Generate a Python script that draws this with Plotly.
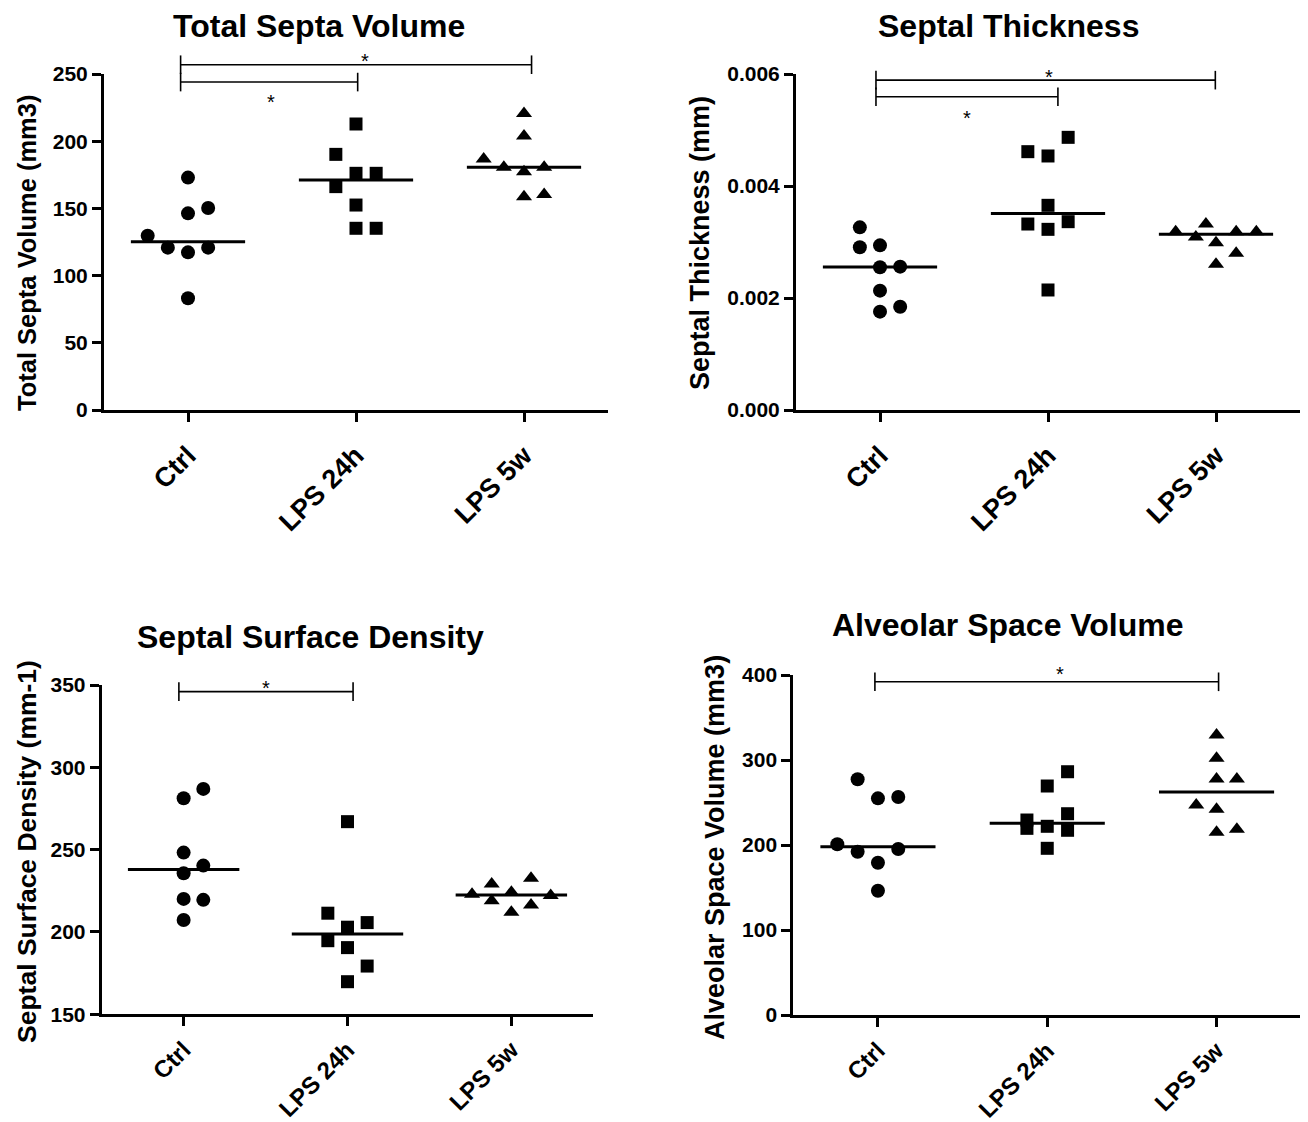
import numpy as np
import plotly.graph_objects as go

W, H = 1308, 1122
OFF = 8  # page offset of the figure (body margin) in the photographed window
FONT = "Liberation Sans, Arial, sans-serif"

categories = ["Ctrl", "LPS 24h", "LPS 5w"]

# ---- Data ----
tsv_ctrl = [172.9, 150.3, 146.3, 129.7, 120.8, 117.3, 120.8, 83.1]
tsv_lps24 = [212.8, 190.2, 176.1, 176.1, 166.2, 152.5, 135.2, 135.2]
tsv_lps5w = [220.7, 203.9, 186.8, 180.6, 177.3, 180.6, 158.7, 160.4]

st_ctrl = [0.003262, 0.002905, 0.00294, 0.002548, 0.00256, 0.002131, 0.001756, 0.001845]
st_lps24 = [0.004869, 0.004613, 0.004536, 0.003655, 0.003321, 0.003226, 0.003363, 0.002143]
st_lps5w = [0.003185, 0.00309, 0.003321, 0.002988, 0.003185, 0.003185, 0.002798, 0.002601]

ssd_ctrl = [281.2, 286.9, 248.2, 240.3, 235.7, 220.1, 219.5, 207.3]
ssd_lps24 = [267.0, 211.4, 205.7, 202.9, 194.7, 190.5, 179.3, 169.8]
ssd_lps5w = [222.9, 229.2, 219.0, 224.1, 212.0, 232.6, 216.4, 222.1]

asv_ctrl = [277.3, 254.9, 256.5, 200.8, 192.1, 195.3, 179.2, 146.2]
asv_lps24 = [286.2, 269.4, 229.4, 219.6, 222.0, 236.8, 217.3, 196.1]
asv_lps5w = [329.4, 302.0, 277.6, 277.6, 247.1, 242.0, 214.9, 218.4]

# scatter-column slots (horizontal jitter, in units of SLOT)
tsv_slots = [[0, 1, 0, -2, -1, 0, 1, 0], [0, -1, 0, 1, -1, 0, 0, 1], [0, 0, -2, -1, 0, 1, 0, 1]]
st_slots = [[-1, -1, 0, 0, 1, 0, 0, 1], [1, -1, 0, 0, -1, 0, 1, 0], [-2, -1, -0.5, 0, 1, 2, 1, 0]]
ssd_slots = [[0, 1, 0, 1, 0, 0, 1, 0], [0, -1, 1, 0, -1, 0, 1, 0], [-2, -1, -1, 0, 0, 1, 1, 2]]
asv_slots = [[-1, 0, 1, -2, -1, 1, 0, 0], [1, 0, -1, -1, 0, 1, 1, 0], [0, 0, 0, 1, -1, 0, 0, 1]]

SLOT = 0.12
HALF_MED = 0.34
SYMBOLS = ["circle", "square", "triangle-up"]
SIZES = [14, 13, 14]

panels = [
    dict(title="Total Septa Volume", ytitle="Total Septa Volume (mm3)",
         groups=[tsv_ctrl, tsv_lps24, tsv_lps5w], slots=tsv_slots,
         yrange=[0, 250], ytick=[0, 50, 100, 150, 200, 250], fmt="",
         box=(104, 608, 74, 410), title_pos=(319, 26), ytitle_pos=(27, 253), ytitle_size=25.5,
         xfont=27, xstand=7,
         # (from, to, bar value, star value, x0 offset, x1 offset, star x)
         sig=[(0, 2, 256.9, 263.4, -0.044, 0.045, 1.055), (0, 1, 244.0, 233.1, -0.044, 0.01, 0.494)]),
    dict(title="Septal Thickness", ytitle="Septal Thickness (mm)",
         groups=[st_ctrl, st_lps24, st_lps5w], slots=st_slots,
         yrange=[0, 0.006], ytick=[0, 0.002, 0.004, 0.006], fmt=".3f",
         box=(796, 1300, 74, 410), title_pos=(1008, 26), ytitle_pos=(700, 243), ytitle_size=27,
         xfont=27, xstand=7,
         sig=[(0, 2, 0.00589, 0.00604, -0.024, -0.004, 1.007), (0, 1, 0.005595, 0.0053, -0.024, 0.059, 0.517)]),
    dict(title="Septal Surface Density", ytitle="Septal Surface Density (mm-1)",
         groups=[ssd_ctrl, ssd_lps24, ssd_lps5w], slots=ssd_slots,
         yrange=[150, 350], ytick=[150, 200, 250, 300, 350], fmt="",
         box=(101.7, 593.3, 685, 1014.3), title_pos=(310, 637), ytitle_pos=(27, 852), ytitle_size=26.5,
         xfont=24, xstand=0,
         sig=[(0, 1, 346.0, 351.5, -0.029, 0.034, 0.505)]),
    dict(title="Alveolar Space Volume", ytitle="Alveolar Space Volume (mm3)",
         groups=[asv_ctrl, asv_lps24, asv_lps5w], slots=asv_slots,
         yrange=[0, 400], ytick=[0, 100, 200, 300, 400], fmt="",
         box=(793.3, 1301.2, 675, 1015), title_pos=(1008, 625), ytitle_pos=(715, 848), ytitle_size=27,
         xfont=24, xstand=0,
         sig=[(0, 2, 392.0, 407.0, -0.018, 0.012, 1.073)]),
]


def pxx(x):
    return (x - OFF) / W


def pxy(y):
    return 1 - (y - OFF) / H


fig = go.Figure()
shapes = []
annotations = []
XR = [-0.5, 2.5]

for i, p in enumerate(panels):
    n = "" if i == 0 else str(i + 1)
    xa, ya = "x" + n, "y" + n
    left, right, top, bottom = p["box"]
    plot_h = bottom - top

    for g, (vals, slots) in enumerate(zip(p["groups"], p["slots"])):
        xs = [g + s * SLOT for s in slots]
        fig.add_trace(go.Scatter(
            x=xs, y=vals, mode="markers", xaxis=xa, yaxis=ya, showlegend=False,
            marker=dict(symbol=SYMBOLS[g], size=SIZES[g], color="black", line=dict(width=0)),
            cliponaxis=False, hoverinfo="y"))
        med = float(np.median(vals))
        fig.add_trace(go.Scatter(
            x=[g - HALF_MED, g + HALF_MED], y=[med, med], mode="lines", xaxis=xa, yaxis=ya,
            showlegend=False, line=dict(color="black", width=3), hoverinfo="skip"))

    ax_kw = dict(domain=[pxx(left), pxx(right)], anchor=ya, range=XR, tickmode="array",
                 tickvals=[0, 1, 2], ticktext=categories, tickangle=-45, automargin=False,
                 showline=True, linecolor="black", linewidth=3, ticks="outside",
                 ticklen=9, tickwidth=3, tickcolor="black", showgrid=False, zeroline=False,
                 ticklabelstandoff=p["xstand"],
                 tickfont=dict(family=FONT, size=p["xfont"], color="black", weight="bold"))
    ay_kw = dict(domain=[pxy(bottom), pxy(top)], anchor=xa, range=p["yrange"],
                 tickmode="array", tickvals=p["ytick"], tickformat=p["fmt"], automargin=False,
                 showline=True, linecolor="black", linewidth=3, ticks="outside",
                 ticklen=9, tickwidth=3, tickcolor="black", showgrid=False, zeroline=False,
                 tickfont=dict(family=FONT, size=21, color="black", weight="bold"))
    fig.layout["xaxis" + n] = ax_kw
    fig.layout["yaxis" + n] = ay_kw

    y0, y1 = p["yrange"]

    def yd(v):
        return (v - y0) / (y1 - y0)

    def xd(c):
        return (c - XR[0]) / (XR[1] - XR[0])

    tick_half = 9.3 / plot_h
    for (ca, cb, bv, sv, o0, o1, sx) in p["sig"]:
        xdr, ydr = xa + " domain", ya + " domain"
        xa0, xb1 = xd(ca + o0), xd(cb + o1)
        line = dict(color="black", width=1.6)
        shapes.append(dict(type="line", xref=xdr, yref=ydr, x0=xa0, x1=xb1,
                           y0=yd(bv), y1=yd(bv), line=line))
        for xx in (xa0, xb1):
            shapes.append(dict(type="line", xref=xdr, yref=ydr, x0=xx, x1=xx,
                               y0=yd(bv) - tick_half, y1=yd(bv) + tick_half, line=line))
        annotations.append(dict(xref=xdr, yref=ydr, x=xd(sx), y=yd(sv), text="*",
                                showarrow=False, xanchor="center", yanchor="middle", yshift=-5,
                                font=dict(family=FONT, size=20, color="black")))

    tx, ty = p["title_pos"]
    annotations.append(dict(xref="paper", yref="paper", x=pxx(tx), y=pxy(ty), text=p["title"],
                            showarrow=False, xanchor="center", yanchor="middle",
                            font=dict(family=FONT, size=32, color="black", weight="bold")))
    yx, yy = p["ytitle_pos"]
    annotations.append(dict(xref="paper", yref="paper", x=pxx(yx), y=pxy(yy), text=p["ytitle"],
                            showarrow=False, xanchor="center", yanchor="middle", textangle=-90,
                            font=dict(family=FONT, size=p["ytitle_size"], color="black", weight="bold")))

fig.update_layout(
    width=W, height=H, margin=dict(l=0, r=0, t=0, b=0, autoexpand=False),
    paper_bgcolor="white", plot_bgcolor="white", template="none",
    shapes=shapes, annotations=annotations, showlegend=False,
    font=dict(family=FONT, color="black"),
)

fig.write_html("out.html")
